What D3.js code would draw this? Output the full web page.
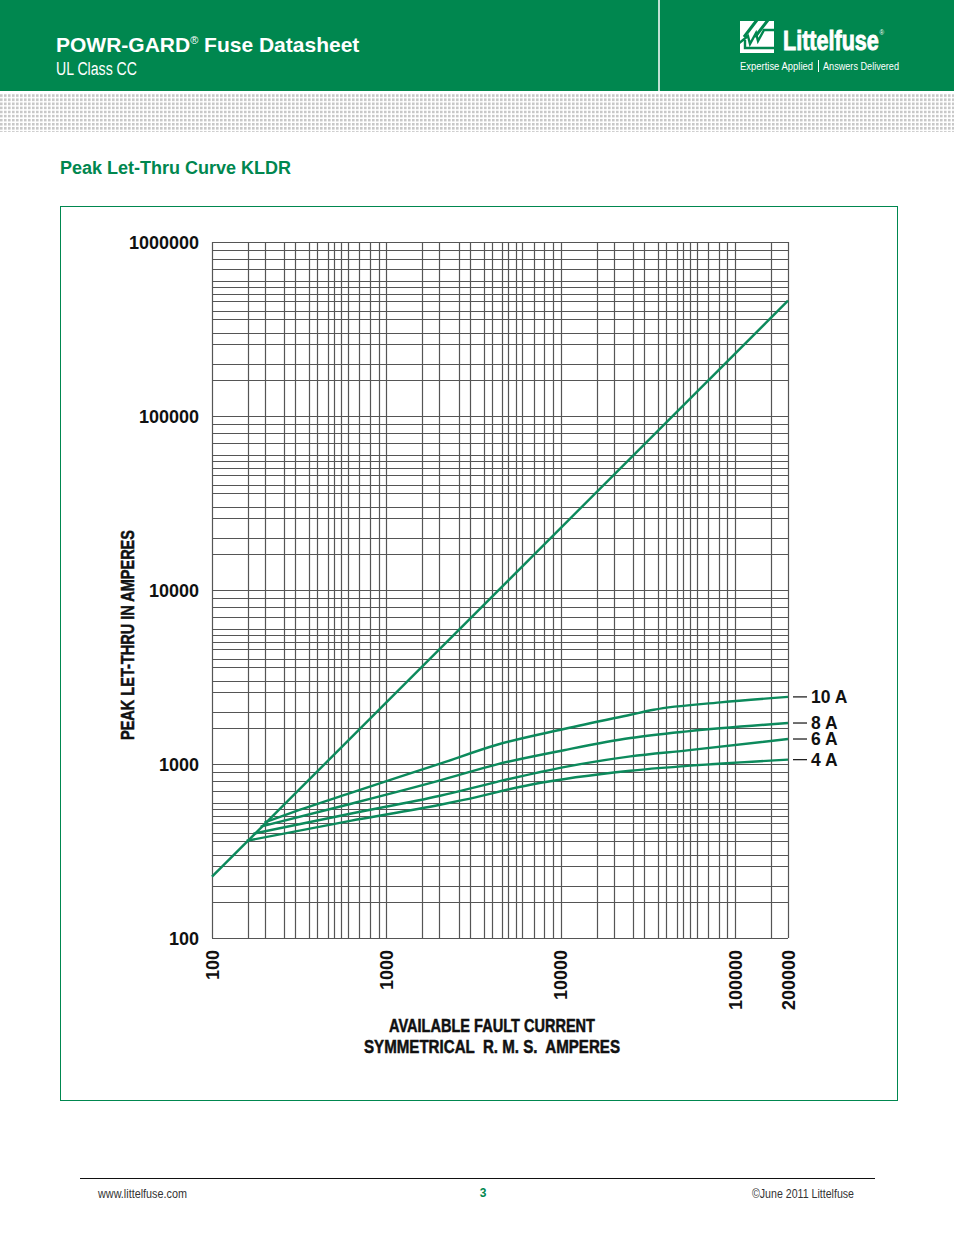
<!DOCTYPE html>
<html>
<head>
<meta charset="utf-8">
<script src="https://cdn.jsdelivr.net/npm/d3@7"></script>
<style>
  html, body { margin: 0; padding: 0; background: #fff; }
  svg { display: block; }
</style>
</head>
<body>
<div id="chart"></div>
<script>
// ---------------- DATA ----------------
const xTickValues = [100, 1000, 10000, 100000, 200000];
const yTickValues = [100, 1000, 10000, 100000, 1000000];
const gridMultipliers = [1, 1.6, 2, 2.6, 3, 3.6, 4, 4.6, 5, 5.5, 6, 7, 8, 9];
const seriesNames = ["10 A", "8 A", "6 A", "4 A"];
// available peak current line (I, Ip)
const availablePeak = [[100, 225], [200000, 460000]];
// let-thru curves (available fault current, peak let-thru)
const curve10A = [[200, 462], [320, 546], [619, 681], [2030, 1004], [4300, 1290], [10400, 1589], [25000, 1920], [34000, 2050], [82000, 2260], [200000, 2430]];
const curve8A  = [[190, 437], [619, 589], [2030, 805], [4300, 995], [10400, 1200], [25000, 1410], [52900, 1540], [200000, 1720]];
const curve6A  = [[173, 398], [619, 518], [2030, 657], [4300, 790], [10400, 960], [25000, 1106], [52900, 1197], [200000, 1392]];
const curve4A  = [[158, 362], [619, 471], [2030, 583], [2766, 622], [6674, 760], [25000, 915], [52900, 975], [200000, 1059]];
const curves = [curve10A, curve8A, curve6A, curve4A];

// ---------------- STYLE ----------------
const W = 954, H = 1235;
const GREEN = "#00874f";
const CURVE = "#0c8a5c";
const GRID = "#555555";
const plot = { left: 212, right: 788, top: 242, bottom: 938 };
const SANS = "Liberation Sans, Arial, Helvetica, sans-serif";

const svg = d3.select("#chart").append("svg")
  .attr("width", W).attr("height", H)
  .attr("viewBox", `0 0 ${W} ${H}`);

// helper: condensed text emulated with textLength
function ctext(parent, opts) {
  const fill = opts.fill || "#111";
  const t = parent.append("text")
    .attr("x", opts.x).attr("y", opts.y)
    .attr("font-family", SANS)
    .attr("font-size", opts.size)
    .attr("font-weight", opts.bold ? "bold" : "normal")
    .attr("fill", fill)
    .attr("text-anchor", opts.anchor || "start")
    .attr("textLength", opts.len)
    .attr("lengthAdjust", "spacingAndGlyphs")
    .style("white-space", "pre")
    .text(opts.text);
  if (opts.heavy) t.attr("stroke", fill).attr("stroke-width", opts.heavy);
  if (opts.transform) t.attr("transform", opts.transform);
  return t;
}

// ---------------- HEADER ----------------
const defs = svg.append("defs");
const pat = defs.append("pattern").attr("id", "dots")
  .attr("patternUnits", "userSpaceOnUse").attr("width", 4).attr("height", 4.1);
pat.append("rect").attr("x", 0).attr("y", 0).attr("width", 2.6).attr("height", 2.6).attr("fill", "#c8c8c8");

svg.append("rect").attr("x", 0).attr("y", 0).attr("width", W).attr("height", 91).attr("fill", GREEN);
svg.append("line").attr("x1", 659).attr("x2", 659).attr("y1", 0).attr("y2", 91)
  .attr("stroke", "#fff").attr("stroke-width", 1.5);
svg.append("rect").attr("x", 0).attr("y", 94).attr("width", W).attr("height", 38).attr("fill", "url(#dots)");

const t1 = svg.append("text").attr("x", 56).attr("y", 52)
  .attr("fill", "#fff").attr("font-family", SANS)
  .attr("font-weight", "bold").attr("font-size", 21);
t1.append("tspan").text("POWR-GARD");
t1.append("tspan").attr("font-size", 11).attr("dy", -8).attr("font-weight", "normal").text("®");
t1.append("tspan").attr("dy", 8).text(" Fuse Datasheet");

ctext(svg, { x: 56, y: 75, size: 18, text: "UL Class CC", len: 81, fill: "#fff" });

// logo
const logo = svg.append("g");
logo.append("rect").attr("x", 740).attr("y", 21).attr("width", 34).attr("height", 32).attr("fill", "#fff");
logo.append("path").attr("d", "M757,20 L744,37 M768,20 L755,37")
  .attr("stroke", GREEN).attr("stroke-width", 3).attr("fill", "none");
logo.append("path").attr("d", "M738,44 L748,36 L750,44 L756,33 L758,41 L764,30 L776,30")
  .attr("stroke", GREEN).attr("stroke-width", 2.4).attr("fill", "none");
logo.append("path").attr("d", "M745,40 L745,48 L776,48")
  .attr("stroke", GREEN).attr("stroke-width", 2.4).attr("fill", "none");
const lt = logo.append("text").attr("transform", "translate(783,50) scale(0.77,1)")
  .attr("font-family", SANS).attr("font-weight", "bold").attr("font-size", 28)
  .attr("fill", "#fff").attr("stroke", "#fff").attr("stroke-width", 0.9);
lt.append("tspan").text("Littelfuse");
lt.append("tspan").attr("font-size", 8).attr("font-weight", "normal").attr("stroke-width", 0)
  .attr("dx", 1).attr("dy", -15).text("®");
ctext(logo, { x: 740, y: 70, size: 10.5, text: "Expertise Applied", len: 73, fill: "#fff" });
logo.append("line").attr("x1", 818.5).attr("x2", 818.5).attr("y1", 60).attr("y2", 72)
  .attr("stroke", "#fff").attr("stroke-width", 1);
ctext(logo, { x: 823, y: 70, size: 10.5, text: "Answers Delivered", len: 76, fill: "#fff" });

// section title
svg.append("text").attr("x", 60).attr("y", 174)
  .attr("fill", GREEN).attr("font-family", SANS)
  .attr("font-weight", "bold").attr("font-size", 18).text("Peak Let-Thru Curve KLDR");

// frame
svg.append("rect").attr("x", 60.5).attr("y", 206.5).attr("width", 837).attr("height", 894)
  .attr("fill", "none").attr("stroke", GREEN).attr("stroke-width", 1);

// ---------------- CHART ----------------
const x = d3.scaleLog().domain([100, 200000]).range([plot.left, plot.right]);
const y = d3.scaleLog().domain([100, 1000000]).range([plot.bottom, plot.top]);

function gridValues(lo, hi) {
  const out = [];
  for (let d = lo; d < hi; d *= 10) {
    gridMultipliers.forEach(m => { const v = d * m; if (v <= hi * 1.0001) out.push(v); });
  }
  out.push(hi);
  return Array.from(new Set(out.map(v => +v.toPrecision(6))));
}
const xGrid = gridValues(100, 200000);
const yGrid = gridValues(100, 1000000);

const g = svg.append("g");
g.selectAll("line.vg").data(xGrid).enter().append("line")
  .attr("x1", d => Math.round(x(d)) + 0.5).attr("x2", d => Math.round(x(d)) + 0.5)
  .attr("y1", plot.top).attr("y2", plot.bottom)
  .attr("stroke", GRID).attr("stroke-width", 1.2);
g.selectAll("line.hg").data(yGrid).enter().append("line")
  .attr("y1", d => Math.round(y(d)) + 0.5).attr("y2", d => Math.round(y(d)) + 0.5)
  .attr("x1", plot.left).attr("x2", plot.right)
  .attr("stroke", GRID).attr("stroke-width", 1.2);

// y tick labels
g.selectAll("text.yl").data(yTickValues).enter().append("text")
  .attr("x", 199).attr("y", d => y(d) + 6.5)
  .attr("text-anchor", "end").attr("font-family", SANS)
  .attr("font-weight", "bold").attr("font-size", 18).attr("fill", "#111")
  .text(d => d3.format("d")(d));

// x tick labels (rotated)
g.selectAll("text.xl").data(xTickValues).enter().append("text")
  .attr("transform", d => `translate(${x(d) + 6.5},950) rotate(-90)`)
  .attr("text-anchor", "end").attr("font-family", SANS)
  .attr("font-weight", "bold").attr("font-size", 18).attr("fill", "#111")
  .text(d => d3.format("d")(d));

// curves
const line = d3.line().x(d => x(d[0])).y(d => y(d[1])).curve(d3.curveMonotoneX);
g.append("path").datum(availablePeak).attr("d", line)
  .attr("fill", "none").attr("stroke", CURVE).attr("stroke-width", 2.4);
g.selectAll("path.fc").data(curves).enter().append("path")
  .attr("d", line).attr("fill", "none").attr("stroke", CURVE).attr("stroke-width", 2.4);

// right labels
curves.forEach((c, i) => {
  const last = c[c.length - 1];
  const yy = y(last[1]);
  g.append("line").attr("x1", plot.right + 5).attr("x2", plot.right + 19)
    .attr("y1", yy).attr("y2", yy).attr("stroke", "#111").attr("stroke-width", 1.2);
  g.append("text").attr("x", plot.right + 23).attr("y", yy + 6)
    .attr("font-family", SANS).attr("font-weight", "bold").attr("font-size", 17.5)
    .attr("fill", "#111").text(seriesNames[i]);
});

// axis titles
ctext(g, { x: 0, y: 0, size: 18, bold: true, anchor: "middle", len: 210, heavy: 0.5,
  text: "PEAK LET-THRU IN AMPERES", transform: "translate(134,635) rotate(-90)" });
ctext(g, { x: 492, y: 1032, size: 18, bold: true, anchor: "middle", len: 206, heavy: 0.5,
  text: "AVAILABLE FAULT CURRENT" });
ctext(g, { x: 492, y: 1053, size: 18, bold: true, anchor: "middle", len: 256, heavy: 0.5,
  text: "SYMMETRICAL  R. M. S.  AMPERES" });

// ---------------- FOOTER ----------------
svg.append("line").attr("x1", 80).attr("x2", 875).attr("y1", 1178.5).attr("y2", 1178.5)
  .attr("stroke", "#111").attr("stroke-width", 1.2);
ctext(svg, { x: 98, y: 1198, size: 12, text: "www.littelfuse.com", len: 89, fill: "#333" });
svg.append("text").attr("x", 483).attr("y", 1197).attr("text-anchor", "middle")
  .attr("font-family", SANS).attr("font-weight", "bold").attr("font-size", 12)
  .attr("fill", GREEN).text("3");
ctext(svg, { x: 854, y: 1198, size: 12, anchor: "end", text: "©June 2011 Littelfuse", len: 102, fill: "#333" });
</script>
</body>
</html>
